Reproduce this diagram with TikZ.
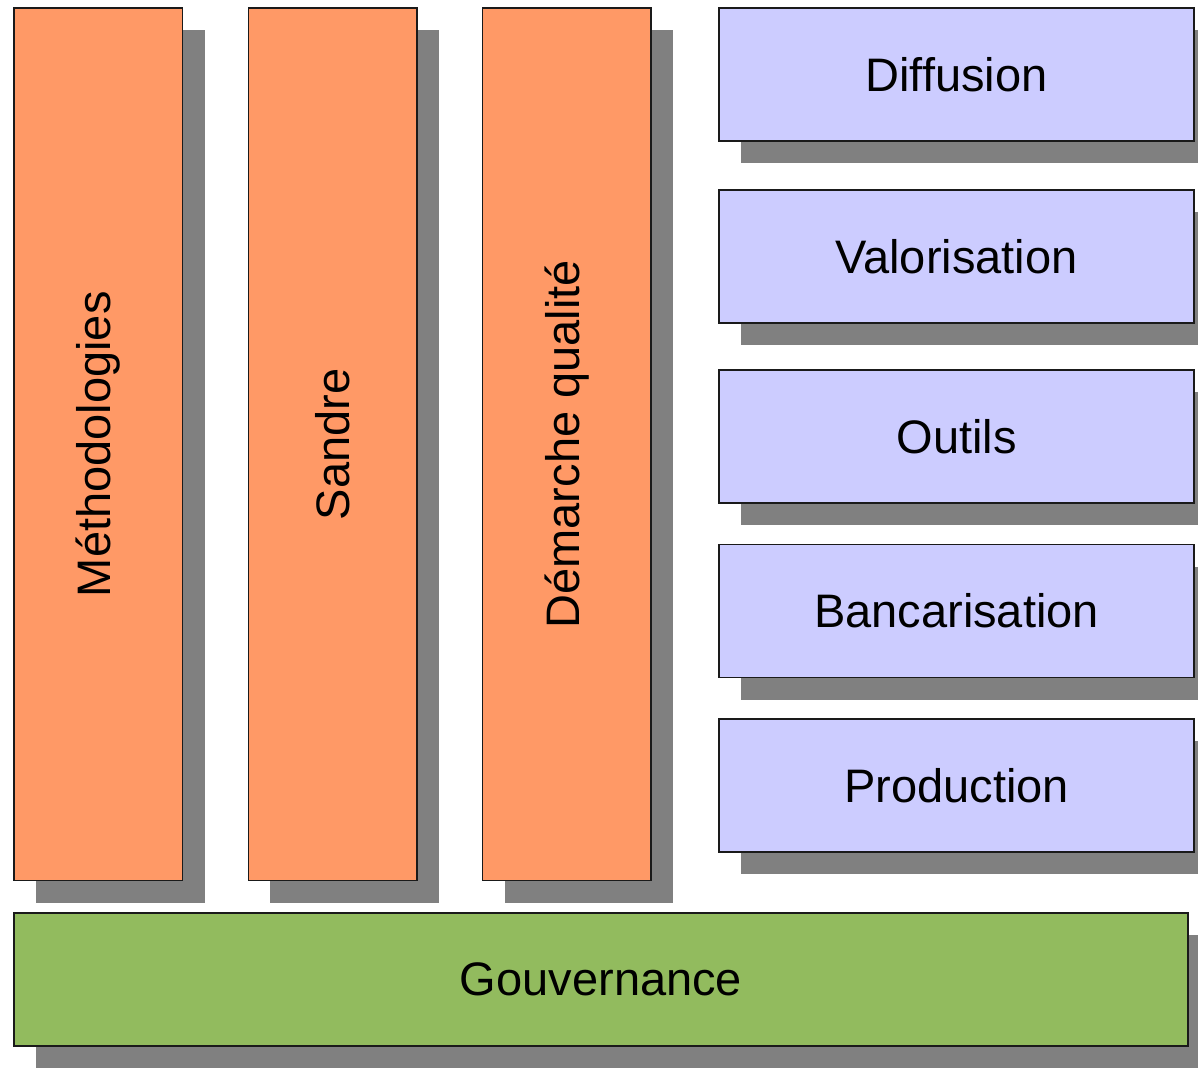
\documentclass[tikz,border=0pt]{standalone}
\usepackage{fontspec}
\setmainfont{Liberation Sans}
\usetikzlibrary{shadows}
\definecolor{colorange}{RGB}{255,153,102}
\definecolor{collav}{RGB}{204,204,255}
\definecolor{colgreen}{RGB}{146,187,94}
\definecolor{colshadow}{RGB}{128,128,128}
\definecolor{colborder}{RGB}{26,26,26}
\tikzset{
  box/.style={draw=colborder, line width=1.6pt, inner sep=0pt, outer sep=0pt,
    font=\fontsize{47}{56}\selectfont,
    drop shadow={shadow xshift=22pt, shadow yshift=-22pt, fill=colshadow, opacity=1}},
  colbox/.style={box, fill=colorange, minimum width=168.5pt, minimum height=872.5pt},
  rowbox/.style={box, fill=collav, minimum width=475pt, minimum height=133pt},
  basebox/.style={box, fill=colgreen, minimum width=1174pt, minimum height=133pt},
}
\begin{document}
\begin{tikzpicture}[x=1pt, y=-1pt]
\useasboundingbox (0,0) rectangle (1198,1068);
\clip (0,0) rectangle (1198,1068);
\node[colbox] (meth) at (98.25,444.25) {\rotatebox{90}{Méthodologies}};
\node[colbox] (sandre) at (332.6,444.25) {\rotatebox{90}{Sandre}};
\node[colbox] (demarche) at (566.85,444.25) {\rotatebox{90}{Démarche qualité}};
\node[rowbox] (diff) at (956.5,74.5) {Diffusion};
\node[rowbox] (valo) at (956.5,256.5) {Valorisation};
\node[rowbox] (outils) at (956.5,436.5) {Outils};
\node[rowbox] (banc) at (956.5,611) {Bancarisation};
\node[rowbox] (prod) at (956.5,785.5) {Production};
\node[basebox] (gouv) at (601,979.2) {Gouvernance};
\end{tikzpicture}
\end{document}
